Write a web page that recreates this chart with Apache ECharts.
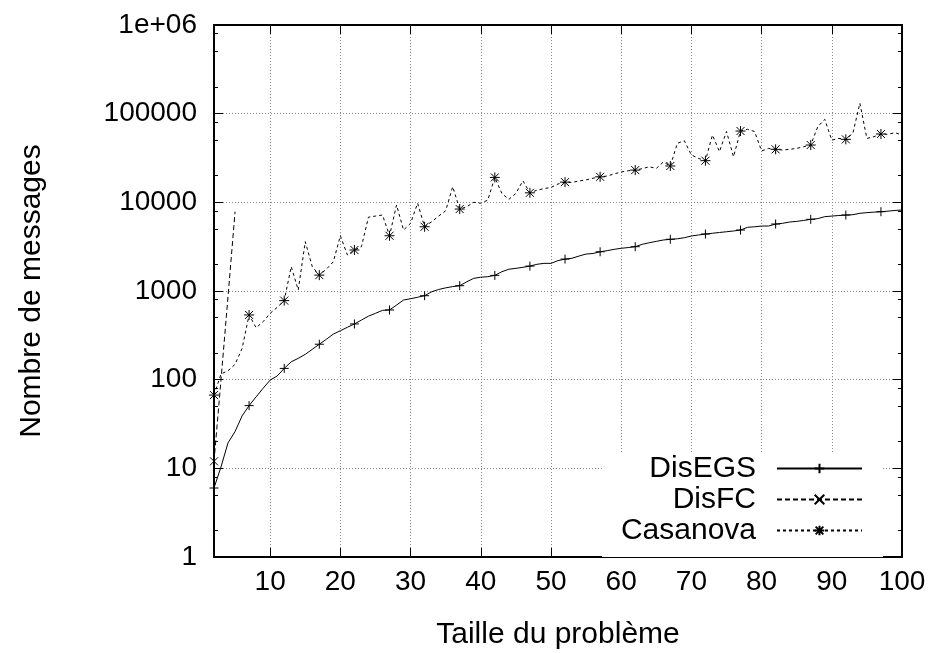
<!DOCTYPE html>
<html><head><meta charset="utf-8">
<script src="https://cdn.jsdelivr.net/npm/echarts@6/dist/echarts.min.js"></script>
<style>html,body{margin:0;padding:0;background:#fff}#c{width:936px;height:653px}</style>
</head><body><div id="c"></div>
<script>
const sizes = [2,3,4,5,6,7,8,9,10,11,12,13,14,15,16,17,18,19,20,21,22,23,24,25,26,27,28,29,30,31,32,33,34,35,36,37,38,39,40,41,42,43,44,45,46,47,48,49,50,51,52,53,54,55,56,57,58,59,60,61,62,63,64,65,66,67,68,69,70,71,72,73,74,75,76,77,78,79,80,81,82,83,84,85,86,87,88,89,90,91,92,93,94,95,96,97,98,99,100];
const disEGS = [6,10.4,19.4,26,39,51,64,80,99,110,134,159,174,193,220,251,285,327,356,390,425,470,520,560,605,611,694,791,818,850,885,980,1040,1085,1120,1147,1270,1390,1430,1450,1500,1650,1760,1800,1850,1910,2000,2050,2050,2200,2290,2340,2480,2610,2650,2770,2850,2950,3030,3090,3160,3360,3500,3630,3760,3830,3880,3990,4170,4280,4390,4480,4570,4660,4750,4870,5230,5300,5400,5410,5690,5800,6000,6100,6250,6430,6550,6890,7000,7100,7190,7250,7520,7650,7750,7840,7950,8100,8190];
const disFCSizes = [2,3,4,5];
const disFC = [12,100,870,7840];
const casanova = [67,116,126,149,225,537,385,451,560,654,779,1880,1026,3600,1880,1510,1760,2140,4200,2550,2900,3160,6800,7000,7200,4200,9330,4870,5800,9770,5300,6040,7000,8040,15000,8400,8920,10000,9770,10600,19100,12600,10800,12600,17500,12800,13700,14300,14700,16100,16900,16800,17400,17900,18700,19400,19800,20900,22000,22700,23100,24000,25200,24100,28500,25700,46300,49500,34200,31300,29500,57400,37300,62900,32700,63700,66600,62900,38000,40600,39600,38900,39600,40600,42400,44300,71300,86300,50300,52600,51300,60100,131000,52600,55000,59000,58500,61000,57400];
const seriesNames = ['DisEGS','DisFC','Casanova'];
const xTicks = [10,20,30,40,50,60,70,80,90,100];
const yTickLabels = ['1','10','100','1000','10000','100000','1e+06'];
const yMinorMantissas = [2,5,8];

const FONT = 'Liberation Sans';
const FS_TICK = 28;
const FS_TITLE = 30;
const yMinorPos = [];
for (let k = 0; k < 6; k++) yMinorMantissas.forEach(m => yMinorPos.push(Math.log10(m) + k));

const SYM_PLUS = 'path://M5,0L5,10M0,5L10,5';
const SYM_CROSS = 'path://M0,0L10,10M0,10L10,0';
const SYM_STAR = 'path://M5,0L5,10M0,5L10,5M1,1L9,9M1,9L9,1';

function build(xs, ys) {
  return xs.map((x, i) => i % 5 === 0 ? { value: [x, ys[i]] } : { value: [x, ys[i]], symbol: 'none' });
}
const axisBlack = { show: true, onZero: false, lineStyle: { color: '#000', width: 2 } };
const gridLine = { show: true, lineStyle: { color: '#8a8a8a', width: 1, type: [1, 2] } };
const tickTxt = { fontFamily: FONT, fontSize: FS_TICK, color: '#000' };
const titleTxt = { fontFamily: FONT, fontSize: FS_TITLE, color: '#000' };

function mkSeries(name, data, sym, size, dash) {
  return {
    name, type: 'line', xAxisIndex: 0, yAxisIndex: 0, data,
    symbol: sym, symbolSize: size, showAllSymbol: true, animation: false,
    lineStyle: { color: '#000', width: 1, type: dash },
    itemStyle: { color: '#000', borderColor: '#000', borderWidth: 1 }
  };
}

const chart = echarts.init(document.getElementById('c'), null, { renderer: 'canvas' });
chart.setOption({
  backgroundColor: '#fff',
  animation: false,
  grid: { left: 214, right: 34, top: 25, bottom: 96, containLabel: false, outerBoundsMode: 'none' },
  legend: {
    data: seriesNames, orient: 'vertical', align: 'right', right: 53, bottom: 96,
    itemWidth: 85, itemHeight: 12, itemGap: 0, backgroundColor: '#fff',
    padding: [1, 20, 11, 19],
    textStyle: Object.assign({ padding: [0, 16, 0, 0], lineHeight: 31 }, titleTxt)
  },
  xAxis: [
    { type: 'value', min: 2, max: 100, position: 'bottom',
      axisLine: axisBlack,
      axisTick: { show: true, inside: true, length: 9, customValues: xTicks, lineStyle: { color: '#000', width: 1 } },
      axisLabel: Object.assign({ customValues: xTicks, margin: 11 }, tickTxt),
      splitLine: gridLine,
      name: 'Taille du problème', nameLocation: 'middle', nameGap: 63, nameTextStyle: titleTxt },
    { type: 'value', min: 2, max: 100, position: 'top',
      axisLine: axisBlack,
      axisTick: { show: true, inside: true, length: 9, customValues: xTicks, lineStyle: { color: '#000', width: 1 } },
      axisLabel: { show: false, customValues: xTicks },
      splitLine: { show: false } }
  ],
  yAxis: [
    { type: 'log', logBase: 10, min: 1, max: 1000000, show: false },
    { type: 'value', min: 0, max: 6, interval: 1, position: 'left',
      axisLine: axisBlack,
      axisTick: { show: true, inside: true, length: 9, lineStyle: { color: '#000', width: 1 } },
      axisLabel: Object.assign({ margin: 17, formatter: v => yTickLabels[Math.round(v)] }, tickTxt),
      splitLine: gridLine,
      name: 'Nombre de messages', nameLocation: 'middle', nameGap: 167, nameTextStyle: titleTxt },
    { type: 'value', min: 0, max: 6, position: 'left',
      axisLine: { show: false },
      axisTick: { show: true, inside: true, length: 4, customValues: yMinorPos, lineStyle: { color: '#000', width: 1 } },
      axisLabel: { show: false, customValues: yMinorPos }, splitLine: { show: false } },
    { type: 'value', min: 0, max: 6, interval: 1, position: 'right',
      axisLine: axisBlack,
      axisTick: { show: true, inside: true, length: 9, lineStyle: { color: '#000', width: 1 } },
      axisLabel: { show: false }, splitLine: { show: false } },
    { type: 'value', min: 0, max: 6, position: 'right',
      axisLine: { show: false },
      axisTick: { show: true, inside: true, length: 4, customValues: yMinorPos, lineStyle: { color: '#000', width: 1 } },
      axisLabel: { show: false, customValues: yMinorPos }, splitLine: { show: false } }
  ],
  series: [
    mkSeries('DisEGS', build(sizes, disEGS), SYM_PLUS, 9, 'solid'),
    mkSeries('DisFC', build(disFCSizes, disFC), SYM_CROSS, 8, [5, 3]),
    mkSeries('Casanova', build(sizes, casanova), SYM_STAR, 10, [3, 3])
  ]
});
</script></body></html>
